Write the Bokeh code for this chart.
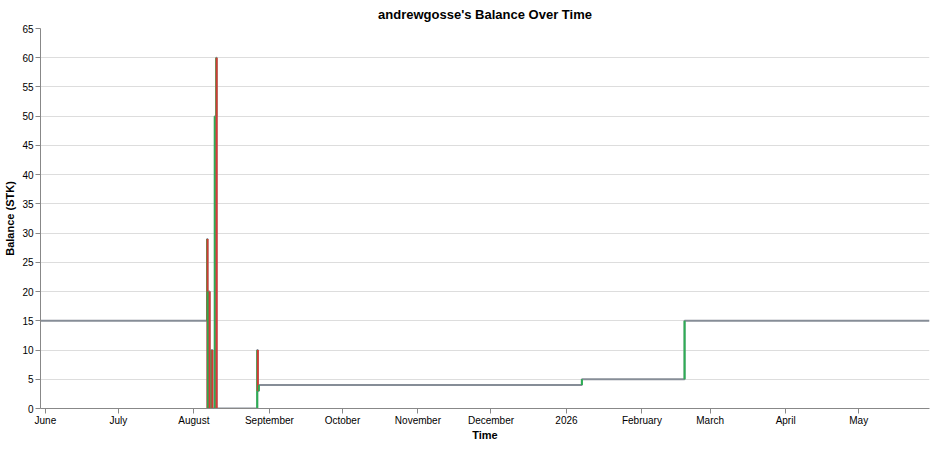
import pandas as pd
from bokeh.plotting import figure
from bokeh.models import Range1d, FixedTicker, SingleIntervalTicker, ColumnDataSource
from bokeh.embed import file_html
from bokeh.resources import INLINE

# ---- data ----
start_balance = 15
range_start = "2025-05-30 00:00"
range_end = "2026-05-30 02:00"

event_times = [
    "2025-08-06 10:00", "2025-08-06 14:00", "2025-08-06 18:00",
    "2025-08-07 11:00", "2025-08-08 06:00", "2025-08-08 14:00",
    "2025-08-09 14:00", "2025-08-10 04:00", "2025-08-10 08:00",
    "2025-08-27 00:00", "2025-08-27 06:00", "2025-08-27 16:00",
    "2026-01-07 08:00", "2026-02-18 12:00",
]
event_balances = [29, 0, 20, 0, 10, 0, 50, 60, 0, 10, 3, 4, 5, 15]

month_ticks = ["2025-06-01", "2025-07-01", "2025-08-01", "2025-09-01", "2025-10-01",
               "2025-11-01", "2025-12-01", "2026-01-01", "2026-02-01", "2026-03-01",
               "2026-04-01", "2026-05-01"]
month_labels = ["June", "July", "August", "September", "October", "November",
                "December", "2026", "February", "March", "April", "May"]

title_text = "andrewgosse's Balance Over Time"
x_title = "Time"
y_title = "Balance (STK)"

# ---- helpers ----
def ms(s):
    return pd.Timestamp(s).value / 1e6

FONT = "Liberation Sans"
GREEN = "#22b14c"
RED = "#e0312f"
GRAY = "#868d97"

step_x = [ms(range_start)] + [ms(t) for t in event_times] + [ms(range_end)]
step_y = [start_balance] + event_balances + [event_balances[-1]]

prev = [start_balance] + event_balances[:-1]
seg_src = ColumnDataSource(dict(
    x=[ms(t) for t in event_times],
    y0=prev,
    y1=event_balances,
    color=[GREEN if b > a else RED for a, b in zip(prev, event_balances)],
))

p = figure(width=930, height=443, x_axis_type="datetime",
           x_range=Range1d(ms(range_start), ms(range_end)),
           y_range=Range1d(0, 65),
           output_backend="svg", toolbar_location=None,
           title=title_text,
           min_border_left=40, min_border_right=1,
           min_border_top=28, min_border_bottom=10)

p.outline_line_color = None
p.background_fill_color = "white"
p.border_fill_color = "white"

p.title.align = "center"
p.title.vertical_align = "top"
p.title.text_font = FONT
p.title.text_font_size = "13px"
p.title.text_font_style = "bold"
p.title.text_color = "#000000"
p.title.standoff = 10
p.title.offset = 0

p.step(step_x, step_y, mode="after", line_color=GRAY, line_width=2)
p.segment(x0="x", y0="y0", x1="x", y1="y1", line_color="color",
          line_width=2, line_alpha=0.9, source=seg_src)

tick_ms = [ms(t) for t in month_ticks]
p.xaxis.ticker = FixedTicker(ticks=tick_ms)
p.xaxis.major_label_overrides = {t: lab for t, lab in zip(tick_ms, month_labels)}
p.yaxis.ticker = SingleIntervalTicker(interval=5)

for ax in (p.xaxis[0], p.yaxis[0]):
    ax.axis_line_color = "#888888"
    ax.major_tick_line_color = "#888888"
    ax.minor_tick_line_color = None
    ax.major_tick_in = 0
    ax.major_tick_out = 5
    ax.major_label_text_font = FONT
    ax.major_label_text_font_size = "10px"
    ax.major_label_text_color = "#000000"
    ax.major_label_standoff = 2
    ax.axis_label_text_font = FONT
    ax.axis_label_text_font_size = "11px"
    ax.axis_label_text_font_style = "bold"
    ax.axis_label_text_color = "#000000"
    ax.axis_label_standoff = 3

p.xaxis.axis_label_standoff = 0
p.xaxis.major_label_standoff = 1

p.xaxis.axis_label = x_title
p.yaxis.axis_label = y_title

p.xgrid.grid_line_color = None
p.ygrid.grid_line_color = "#dddddd"
p.ygrid.grid_line_width = 1

open("out.html", "w").write(file_html(p, INLINE))
